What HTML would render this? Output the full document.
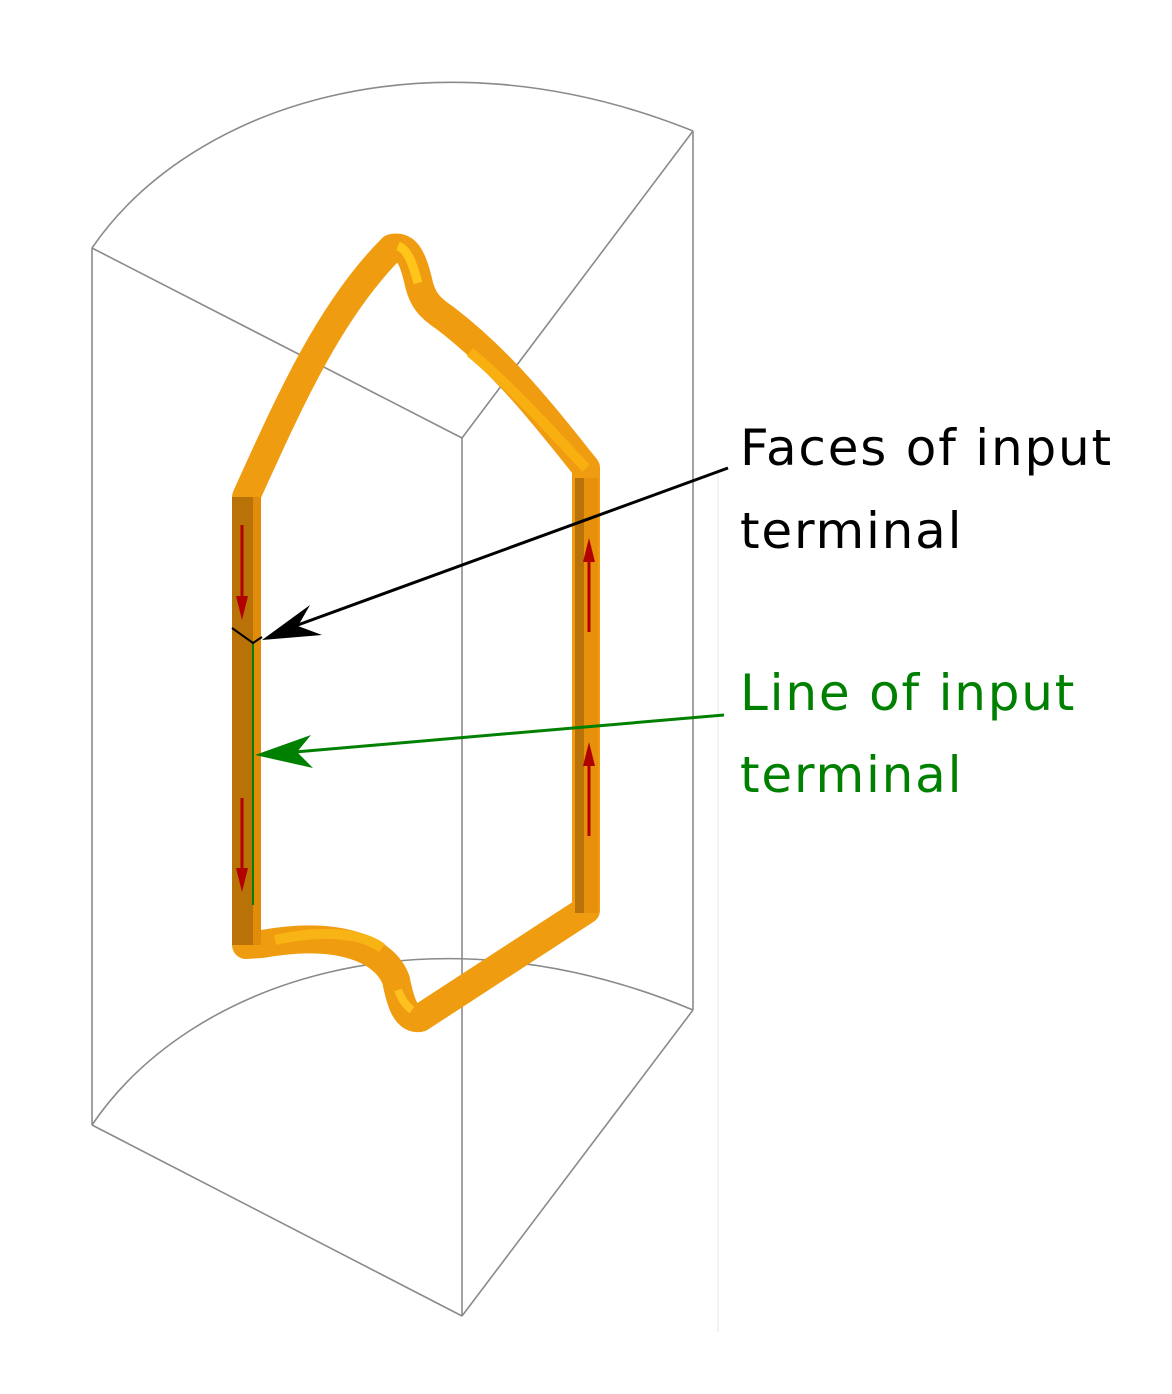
<!DOCTYPE html>
<html><head><meta charset="utf-8"><style>
html,body{margin:0;padding:0;background:#fff}
svg{display:block}
</style></head><body>
<svg width="1172" height="1394" viewBox="0 0 1172 1394" xmlns="http://www.w3.org/2000/svg">
<rect width="1172" height="1394" fill="#fff"/>
<line x1="718" y1="470" x2="718" y2="1332" stroke="#eee" stroke-width="1.5"/>
<g fill="none" stroke="#8a8a8a" stroke-width="1.6">
<path d="M92,248 C190,105 430,25 693,131"/>
<path d="M92,1125 C190,980 430,900 693,1010"/>
<line x1="92" y1="248" x2="462" y2="438"/>
<line x1="462" y1="438" x2="693" y2="131"/>
<line x1="693" y1="131" x2="693" y2="1010"/>
<line x1="92" y1="248" x2="92" y2="1125"/>
<line x1="462" y1="438" x2="462" y2="1316"/>
<line x1="92" y1="1125" x2="462" y2="1316"/>
<line x1="462" y1="1316" x2="693" y2="1010"/>
</g>
<g fill="none" stroke-linejoin="round">
<path d="M246,945 L246,497 C290,400 330,310 392,248 C405,245 412,255 418,280 C422,300 430,308 445,318 C500,360 540,410 586,468 L586,910 L420,1018 C405,1020 400,1000 396,980 C385,950 340,930 262,944 Z" stroke="#f09c10" stroke-width="28"/>
<path d="M398,246 C408,250 412,262 418,283" stroke="#ffc51a" stroke-width="9"/>
<path d="M398,990 C402,1000 406,1006 412,1010" stroke="#ffc020" stroke-width="8"/>
<path d="M470,352 C515,390 548,428 586,468" stroke="#f8b010" stroke-width="10"/>
<path d="M275,940 C320,930 360,932 382,948" stroke="#f8b414" stroke-width="10"/>
</g>
<rect x="232" y="497" width="21" height="448" fill="#b87208"/>
<rect x="253" y="497" width="8" height="448" fill="#e08c0a"/>
<rect x="575" y="478" width="9" height="435" fill="#b87208"/>
<rect x="584" y="478" width="14" height="435" fill="#e6900c"/>
<g stroke="#b00000" stroke-width="3" fill="#b00000">
<line x1="242" y1="525" x2="242" y2="600"/><path d="M236,596 L248,596 L242,620 Z" stroke="none"/>
<line x1="242" y1="798" x2="242" y2="872"/><path d="M236,868 L248,868 L242,892 Z" stroke="none"/>
<line x1="589" y1="632" x2="589" y2="558"/><path d="M583,562 L595,562 L589,538 Z" stroke="none"/>
<line x1="589" y1="836" x2="589" y2="762"/><path d="M583,766 L595,766 L589,742 Z" stroke="none"/>
</g>
<line x1="253" y1="643" x2="253" y2="905" stroke="#008000" stroke-width="2"/>
<path d="M232,628 L253,643 L262,637" fill="none" stroke="#000" stroke-width="2"/>
<line x1="728" y1="468" x2="295" y2="626" stroke="#000" stroke-width="3"/>
<path d="M262,640 L310,605 L298,626 L322,635 Z" fill="#000"/>
<line x1="724" y1="715" x2="295" y2="752" stroke="#008000" stroke-width="3"/>
<path d="M255,755 L311,735 L297,752 L313,768 Z" fill="#008000"/>
<g font-family="'DejaVu Sans',sans-serif" font-size="50" letter-spacing="1.8">
<text x="740" y="465" fill="#000">Faces of input</text>
<text x="740" y="548" fill="#000">terminal</text>
<text x="740" y="710" fill="#008000">Line of input</text>
<text x="740" y="792" fill="#008000">terminal</text>
</g>
</svg>
</body></html>
